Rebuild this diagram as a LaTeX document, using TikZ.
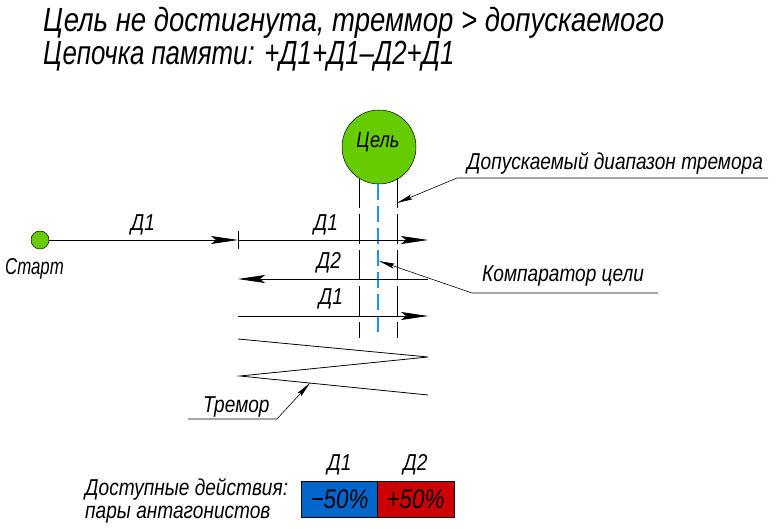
\documentclass[tikz,border=0pt]{standalone}
\usepackage{fontspec}
\setmainfont{Liberation Sans}[FakeStretch=0.83]
\usetikzlibrary{arrows.meta}
\definecolor{goalgreen}{RGB}{102,204,0}
\definecolor{cmpblue}{RGB}{30,144,255}
\definecolor{boxblue}{RGB}{0,102,204}
\definecolor{boxred}{RGB}{204,0,0}
\tikzset{
  lbl/.style={font=\itshape\fontsize{23}{25}\selectfont, inner sep=0pt},
  big/.style={font=\itshape\fontsize{33.5}{36}\selectfont, inner sep=0pt, anchor=base west},
  move/.style={line width=0.8pt, -{Stealth[length=27pt,width=8pt,inset=5pt]}},
  plain/.style={line width=0.8pt},
  leader/.style={line width=0.6pt, -{Stealth[length=16pt,width=5pt,inset=3pt]}},
  bound/.style={line width=0.7pt, dash pattern=on 30pt off 6pt},
  compar/.style={cmpblue, line width=2pt, dash pattern=on 16pt off 6pt},
  dot/.style={circle, draw=black, line width=0.5pt, fill=goalgreen, inner sep=0pt},
  actbox/.style={draw=black, line width=0.7pt, minimum width=76pt, minimum height=36pt, inner sep=0pt, font=\itshape\fontsize{27}{28}\selectfont},
}
\begin{document}
\begin{tikzpicture}[x=1pt,y=-1pt]
\useasboundingbox (0,0) rectangle (784,529);
% titles
\node[big] (title1) at (43,32) {\scalebox{0.99}[1]{Цель не достигнута, треммор > допускаемого}};
\node[big] (title2) at (43,65) {\scalebox{0.93}[1]{Цепочка памяти: +Д1+Д1–Д2+Д1}};
% goal
\node[dot, minimum size=74pt] (goal) at (379,147) {};
\node[lbl, font=\itshape\fontsize{22}{24}\selectfont, anchor=base] (goallbl) at (378,148) {Цель};
% tolerance boundaries and comparator
\coordinate (bl1) at (359,178); \coordinate (bl2) at (359,338);
\coordinate (br1) at (397,178); \coordinate (br2) at (397,338);
\coordinate (c1) at (378,184); \coordinate (c2) at (378,338);
\draw[bound] (bl1) -- (bl2);
\draw[bound] (br1) -- (br2);
\draw[compar] (c1) -- (c2);
% start
\node[dot, minimum size=18pt] (start) at (40,240) {};
\node[lbl, anchor=base west] (startlbl) at (5,274) {\scalebox{0.88}[1]{Старт}};
\coordinate (tick) at (238,240);
\coordinate (tickt) at (238,231); \coordinate (tickb) at (238,249);
\draw[plain] (tickt) -- (tickb);
\draw[move] (start) -- (tick);
\node[lbl, anchor=base] (l0) at (143,231) {Д1};
% moves
\coordinate (m1e) at (428,240);
\draw[move] (tick) -- (m1e);
\node[lbl, anchor=base] (l1) at (326,231) {Д1};
\coordinate (m2s) at (428,279); \coordinate (m2e) at (238,279);
\draw[move] (m2s) -- (m2e);
\node[lbl, anchor=base] (l2) at (329,269) {Д2};
\coordinate (m3s) at (238,316); \coordinate (m3e) at (428,316);
\draw[move] (m3s) -- (m3e);
\node[lbl, anchor=base] (l3) at (331,305) {Д1};
% tremor zigzag
\coordinate (z1) at (238,339); \coordinate (z2) at (428,357);
\coordinate (z3) at (240,376); \coordinate (z4) at (428,395);
\draw[plain] (z1) -- (z2) -- (z3) -- (z4);
% tremor leader
\coordinate (tr1) at (188,419); \coordinate (tr2) at (277,419); \coordinate (trt) at (310,383);
\draw[leader] (tr1) -- (tr2) -- (trt);
\node[lbl, anchor=base west] (tremor) at (203,412) {Тремор};
% tolerance leader
\coordinate (tl1) at (768,178); \coordinate (tl2) at (457,178); \coordinate (tlt) at (397,203);
\draw[leader] (tl1) -- (tl2) -- (tlt);
\node[lbl, anchor=base west] (tollbl) at (467,170) {Допускаемый диапазон тремора};
% comparator leader
\coordinate (cl1) at (658,293); \coordinate (cl2) at (472,293); \coordinate (clt) at (379,261);
\draw[leader] (cl1) -- (cl2) -- (clt);
\node[lbl, anchor=base west] (cmplbl) at (482,282) {Компаратор цели};
% legend
\node[lbl, anchor=base west] (leg1) at (85,495) {Доступные действия:};
\node[lbl, anchor=base west] (leg2) at (85,518) {пары антагонистов};
\node[actbox, fill=boxblue] (b1) at (339.5,499) {−50\%};
\node[actbox, fill=boxred, minimum width=77pt] (b2) at (415.5,499) {+50\%};
\node[lbl, anchor=base] (d1) at (b1.center |- 0,470) {Д1};
\node[lbl, anchor=base] (d2) at (b2.center |- 0,470) {Д2};
\end{tikzpicture}
\end{document}
